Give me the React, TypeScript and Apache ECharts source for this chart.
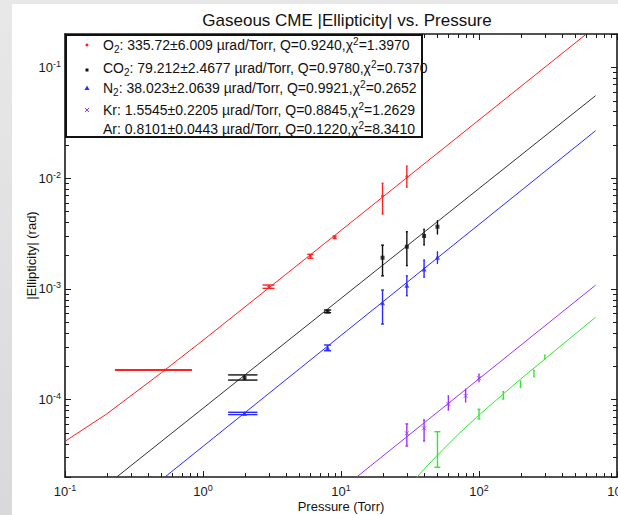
import React, { useEffect, useRef } from 'react';
import * as echarts from 'echarts';

// ---------- data ----------
// O2
const O2_P = [0.53, 3, 6, 9, 20, 30];
const O2_E = [1.85e-4, 1.045e-3, 1.98e-3, 2.92e-3, 6.9e-3, 1.03e-2];
const O2_LO = [1.838e-4, 1.01e-3, 1.89e-3, 2.85e-3, 4.74e-3, 8.26e-3];
const O2_HI = [1.862e-4, 1.083e-3, 2.05e-3, 3.0e-3, 8.97e-3, 1.29e-2];
const O2_FIT_P = [0.1, 0.2, 0.5, 1, 10, 600];
const O2_FIT_E = [4.2e-5, 7.4e-5, 1.75e-4, 3.43e-4, 3.37e-3, 0.2];

// CO2
const CO2_P = [2, 8, 20, 30, 40, 50];
const CO2_E = [1.57e-4, 6.22e-4, 1.91e-3, 2.4e-3, 3.0e-3, 3.64e-3];
const CO2_LO = [1.5e-4, 6.09e-4, 1.31e-3, 1.62e-3, 2.49e-3, 3.13e-3];
const CO2_HI = [1.67e-4, 6.44e-4, 2.48e-3, 3.28e-3, 3.45e-3, 4.12e-3];
const CO2_FIT_P = [0.237, 700];
const CO2_FIT_E = [2.0e-5, 5.55e-2];

// N2
const N2_P = [2, 8, 20, 30, 40, 50];
const N2_E = [7.5e-5, 2.94e-4, 7.5e-4, 1.08e-3, 1.51e-3, 1.93e-3];
const N2_LO = [7.32e-5, 2.76e-4, 4.81e-4, 8.67e-4, 1.27e-3, 1.7e-3];
const N2_HI = [7.68e-5, 3.11e-4, 9.75e-4, 1.31e-3, 1.82e-3, 2.16e-3];
const N2_FIT_P = [0.53, 700];
const N2_FIT_E = [2.0e-5, 2.68e-2];

// Kr
const KR_P = [30, 40, 60, 80, 100];
const KR_E = [4.96e-5, 5.5e-5, 9.12e-5, 1.08e-4, 1.56e-4];
const KR_LO = [3.81e-5, 4.23e-5, 8.05e-5, 9.51e-5, 1.45e-4];
const KR_HI = [6.03e-5, 6.55e-5, 1.08e-4, 1.24e-4, 1.7e-4];
const KR_FIT_P = [13, 700];
const KR_FIT_E = [2.0e-5, 1.08e-3];

// Ar
const AR_P = [50, 100, 150, 200, 250, 300];
const AR_E = [3.16e-5, 7.36e-5, 1.1e-4, 1.38e-4, 1.73e-4, 2.41e-4];
const AR_LO = [2.45e-5, 6.68e-5, 1.01e-4, 1.29e-4, 1.61e-4, 2.31e-4];
const AR_HI = [5.13e-5, 8.17e-5, 1.18e-4, 1.47e-4, 1.85e-4, 2.53e-4];
const AR_FIT_P = [35, 40, 50, 70, 100, 200, 700];
const AR_FIT_E = [1.95e-5, 2.35e-5, 3.15e-5, 4.8e-5, 7.25e-5, 1.53e-4, 5.55e-4];

// axes
const X_MIN = 0.1;
const X_MAX = 1000;
const Y_MIN = 2e-5;
const Y_MAX = 0.2;
const X_DECADES = [0.1, 1, 10, 100];
const Y_DECADES = [1e-5, 1e-4, 1e-3, 1e-2, 1e-1];
const MANTISSAS = [2, 3, 4, 5, 6, 7, 8, 9];

// legend texts
const LEGEND_ROWS = [
  '{t|O}{sub|2}{t|: 335.72±6.009 µrad/Torr, Q=0.9240,χ}{sup|2}{t|=1.3970}',
  '{t|CO}{sub|2}{t|: 79.212±2.4677 µrad/Torr, Q=0.9780,χ}{sup|2}{t|=0.7370}',
  '{t|N}{sub|2}{t|: 38.023±2.0639 µrad/Torr, Q=0.9921,χ}{sup|2}{t|=0.2652}',
  '{t|Kr: 1.5545±0.2205 µrad/Torr, Q=0.8845,χ}{sup|2}{t|=1.2629}',
  '{t|Ar: 0.8101±0.0443 µrad/Torr, Q=0.1220,χ}{sup|2}{t|=8.3410}',
];

const TITLE = 'Gaseous CME |Ellipticity| vs. Pressure';
const X_NAME = 'Pressure (Torr)';
const Y_NAME = '|Ellipticity| (rad)';

// ---------- styles ----------
const FONT = "'Liberation Sans', Arial, Helvetica, sans-serif";
const AXIS_COLOR = '#1a1a1a';
const RED = '#ff2020';
const BLACK = '#111111';
const BLUE = '#2a2aff';
const PURPLE = '#9a33ff';
const GREEN = '#33e633';

const zip2 = (a: number[], b: number[]) => a.map((v, i) => [v, b[i]]);
const zip3 = (a: number[], b: number[], c: number[]) => a.map((v, i) => [v, b[i], c[i]]);

function powLabel(v: number): string {
  const l = Math.log10(v);
  const e = Math.round(l);
  if (Math.abs(l - e) > 1e-6) return '';
  return `{b|10}{s|${e}}`;
}

const LABEL_RICH = {
  b: { fontSize: 13, fontFamily: FONT, color: AXIS_COLOR, lineHeight: 16 },
  s: { fontSize: 9, fontFamily: FONT, color: AXIS_COLOR, lineHeight: 8, verticalAlign: 'top' },
};

const LEG_RICH = {
  t: { fontSize: 14, fontFamily: FONT, fill: '#111', color: '#111', lineHeight: 18 },
  sub: { fontSize: 10, fontFamily: FONT, fill: '#111', color: '#111', lineHeight: 9, verticalAlign: 'bottom' },
  sup: { fontSize: 10, fontFamily: FONT, fill: '#111', color: '#111', lineHeight: 9, verticalAlign: 'top' },
};

function errorBarSeries(name: string, p: number[], lo: number[], hi: number[], color: string, tee: number) {
  return {
    type: 'custom',
    name,
    xAxisIndex: 0,
    yAxisIndex: 0,
    silent: true,
    z: 3,
    data: zip3(p, lo, hi),
    encode: { x: 0, y: [1, 2] },
    renderItem: (params: any, api: any) => {
      const x = api.value(0);
      const l = api.value(1);
      const h = api.value(2);
      const top = api.coord([x, h]);
      const bot = api.coord([x, l]);
      const xl = api.coord([x - tee, h])[0];
      const xr = api.coord([x + tee, h])[0];
      const style = { stroke: color, lineWidth: 1.4 };
      return {
        type: 'group',
        children: [
          { type: 'line', shape: { x1: top[0], y1: top[1], x2: bot[0], y2: bot[1] }, style },
          { type: 'line', shape: { x1: xl, y1: top[1], x2: xr, y2: top[1] }, style },
          { type: 'line', shape: { x1: xl, y1: bot[1], x2: xr, y2: bot[1] }, style },
        ],
      };
    },
  };
}

function fitSeries(name: string, p: number[], e: number[], color: string) {
  return {
    type: 'line',
    name,
    xAxisIndex: 0,
    yAxisIndex: 0,
    data: zip2(p, e),
    showSymbol: false,
    symbol: 'none',
    silent: true,
    z: 2,
    lineStyle: { color, width: 1 },
  };
}

function pointSeries(name: string, p: number[], e: number[], symbol: string, size: number, color: string, stroke?: boolean) {
  return {
    type: 'scatter',
    name,
    xAxisIndex: 0,
    yAxisIndex: 0,
    data: zip2(p, e),
    symbol,
    symbolSize: size,
    silent: true,
    z: 4,
    itemStyle: stroke
      ? { color: 'rgba(0,0,0,0)', borderColor: color, borderWidth: 1 }
      : { color },
  };
}

const xMinor = X_DECADES.flatMap((d) => MANTISSAS.map((m) => d * m)).filter((v) => v > X_MIN && v < X_MAX);
const yMinor = Y_DECADES.flatMap((d) => MANTISSAS.map((m) => d * m)).filter((v) => v > Y_MIN * 1.0001 && v < Y_MAX * 0.9999);

const minorX = {
  type: 'custom',
  xAxisIndex: 0,
  yAxisIndex: 0,
  silent: true,
  clip: false,
  z: 6,
  data: xMinor.map((v) => [v, 1e-3]),
  encode: { x: 0, y: 1 },
  renderItem: (params: any, api: any) => {
    const cs = params.coordSys;
    const px = Math.round(api.coord([api.value(0), 1e-3])[0]) + 0.5;
    const st = { stroke: AXIS_COLOR, lineWidth: 1 };
    return {
      type: 'group',
      children: [
        { type: 'line', shape: { x1: px, y1: cs.y + cs.height, x2: px, y2: cs.y + cs.height - 4 }, style: st },
        { type: 'line', shape: { x1: px, y1: cs.y, x2: px, y2: cs.y + 4 }, style: st },
      ],
    };
  },
};

const minorY = {
  type: 'custom',
  xAxisIndex: 0,
  yAxisIndex: 0,
  silent: true,
  clip: false,
  z: 6,
  data: yMinor.map((v) => [1, v]),
  encode: { x: 0, y: 1 },
  renderItem: (params: any, api: any) => {
    const cs = params.coordSys;
    const py = Math.round(api.coord([1, api.value(1)])[1]) + 0.5;
    const st = { stroke: AXIS_COLOR, lineWidth: 1 };
    return {
      type: 'group',
      children: [
        { type: 'line', shape: { x1: cs.x, y1: py, x2: cs.x + 4, y2: py }, style: st },
        { type: 'line', shape: { x1: cs.x + cs.width, y1: py, x2: cs.x + cs.width - 4, y2: py }, style: st },
      ],
    };
  },
};

const axisCommon = {
  axisLine: { show: true, onZero: false, lineStyle: { color: AXIS_COLOR, width: 1.6 } },
  axisTick: { show: true, inside: true, length: 6, lineStyle: { color: AXIS_COLOR, width: 1 } },
  splitLine: { show: false },
  minorTick: { show: false },
};

const ROW_Y = [45, 68, 88, 110, 129];
const LEG_X_TEXT = 103;
const LEG_X_MARK = 87;

const option: any = {
  animation: false,
  title: {
    text: TITLE,
    left: 342,
    top: 7,
    textAlign: 'center',
    textStyle: { fontFamily: FONT, fontSize: 17, fontWeight: 'normal', color: '#111' },
  },
  grid: { left: 65, right: 1, top: 34, bottom: 38, containLabel: false, outerBoundsMode: 'none' },
  xAxis: [
    {
      type: 'log',
      logBase: 10,
      min: X_MIN,
      max: X_MAX,
      position: 'bottom',
      name: X_NAME,
      nameLocation: 'middle',
      nameGap: 23,
      nameMoveOverlap: false,
      nameTextStyle: { fontFamily: FONT, fontSize: 13, lineHeight: 13, color: '#111' },
      ...axisCommon,
      axisLabel: { show: true, margin: 6.5, formatter: powLabel, rich: LABEL_RICH, showMinLabel: true, showMaxLabel: true, hideOverlap: false },
    },
    {
      type: 'log',
      logBase: 10,
      min: X_MIN,
      max: X_MAX,
      position: 'top',
      ...axisCommon,
      axisLabel: { show: false },
    },
  ],
  yAxis: [
    {
      type: 'log',
      logBase: 10,
      min: Y_MIN,
      max: Y_MAX,
      position: 'left',
      name: Y_NAME,
      nameLocation: 'middle',
      nameGap: 27,
      nameMoveOverlap: false,
      nameTextStyle: { fontFamily: FONT, fontSize: 13, color: '#111' },
      ...axisCommon,
      axisLabel: { show: true, margin: 4, formatter: powLabel, rich: LABEL_RICH, hideOverlap: false },
    },
    {
      type: 'log',
      logBase: 10,
      min: Y_MIN,
      max: Y_MAX,
      position: 'right',
      ...axisCommon,
      axisLabel: { show: false },
    },
  ],
  series: [
    fitSeries('O2 fit', O2_FIT_P, O2_FIT_E, RED),
    fitSeries('CO2 fit', CO2_FIT_P, CO2_FIT_E, '#333333'),
    fitSeries('N2 fit', N2_FIT_P, N2_FIT_E, BLUE),
    fitSeries('Kr fit', KR_FIT_P, KR_FIT_E, PURPLE),
    fitSeries('Ar fit', AR_FIT_P, AR_FIT_E, GREEN),
    errorBarSeries('O2 err', O2_P, O2_LO, O2_HI, RED, 0.3),
    errorBarSeries('CO2 err', CO2_P, CO2_LO, CO2_HI, BLACK, 0.48),
    errorBarSeries('N2 err', N2_P, N2_LO, N2_HI, BLUE, 0.48),
    errorBarSeries('Kr err', KR_P, KR_LO, KR_HI, PURPLE, 0.7),
    errorBarSeries('Ar err', AR_P, AR_LO, AR_HI, GREEN, 2.5),
    pointSeries('O2', O2_P, O2_E, 'circle', 3, RED),
    pointSeries('CO2', CO2_P, CO2_E, 'rect', 4, BLACK),
    pointSeries('N2', N2_P, N2_E, 'triangle', 5, BLUE),
    pointSeries('Kr', KR_P, KR_E, 'path://M0,0L10,10M10,0L0,10', 4, PURPLE, true),
    minorX,
    minorY,
  ],
  graphic: [
    {
      type: 'rect',
      z: 100,
      shape: { x: 66, y: 35, width: 356, height: 102 },
      style: { fill: '#ffffff', stroke: '#111', lineWidth: 2 },
    },
    ...LEGEND_ROWS.map((txt, i) => ({
      type: 'text',
      z: 101,
      x: LEG_X_TEXT,
      y: ROW_Y[i],
      style: {
        text: txt,
        rich: LEG_RICH,
        fontFamily: FONT,
        fontSize: 14,
        fill: '#111',
        align: 'left',
        verticalAlign: 'middle',
      },
    })),
    { type: 'circle', z: 101, shape: { cx: LEG_X_MARK, cy: ROW_Y[0], r: 1.5 }, style: { fill: RED } },
    { type: 'rect', z: 101, shape: { x: LEG_X_MARK - 1.5, y: ROW_Y[1] + 0.5, width: 3, height: 3 }, style: { fill: BLACK } },
    { type: 'polygon', z: 101, shape: { points: [[LEG_X_MARK, ROW_Y[2] - 2.5], [LEG_X_MARK + 2.5, ROW_Y[2] + 2], [LEG_X_MARK - 2.5, ROW_Y[2] + 2]] }, style: { fill: BLUE } },
    { type: 'line', z: 101, shape: { x1: LEG_X_MARK - 2, y1: ROW_Y[3] - 2, x2: LEG_X_MARK + 2, y2: ROW_Y[3] + 2 }, style: { stroke: PURPLE, lineWidth: 1 } },
    { type: 'line', z: 101, shape: { x1: LEG_X_MARK + 2, y1: ROW_Y[3] - 2, x2: LEG_X_MARK - 2, y2: ROW_Y[3] + 2 }, style: { stroke: PURPLE, lineWidth: 1 } },
  ],
};

export default function App() {
  const ref = useRef<HTMLDivElement>(null);
  useEffect(() => {
    if (!ref.current) return;
    const chart = echarts.init(ref.current, null, { renderer: 'svg', width: 618, height: 515 });
    chart.setOption(option);
    return () => chart.dispose();
  }, []);
  return (
    <div
      style={{
        position: 'fixed',
        left: 0,
        top: 0,
        width: 618,
        height: 515,
        overflow: 'hidden',
        background: 'linear-gradient(#e8e8e8, #d9d9dc)',
      }}
    >
      <div style={{ position: 'absolute', left: 12, top: 4, right: 0, bottom: 0, background: '#ffffff' }} />
      <div ref={ref} style={{ position: 'absolute', left: 0, top: 0, width: 618, height: 515 }} />
    </div>
  );
}
